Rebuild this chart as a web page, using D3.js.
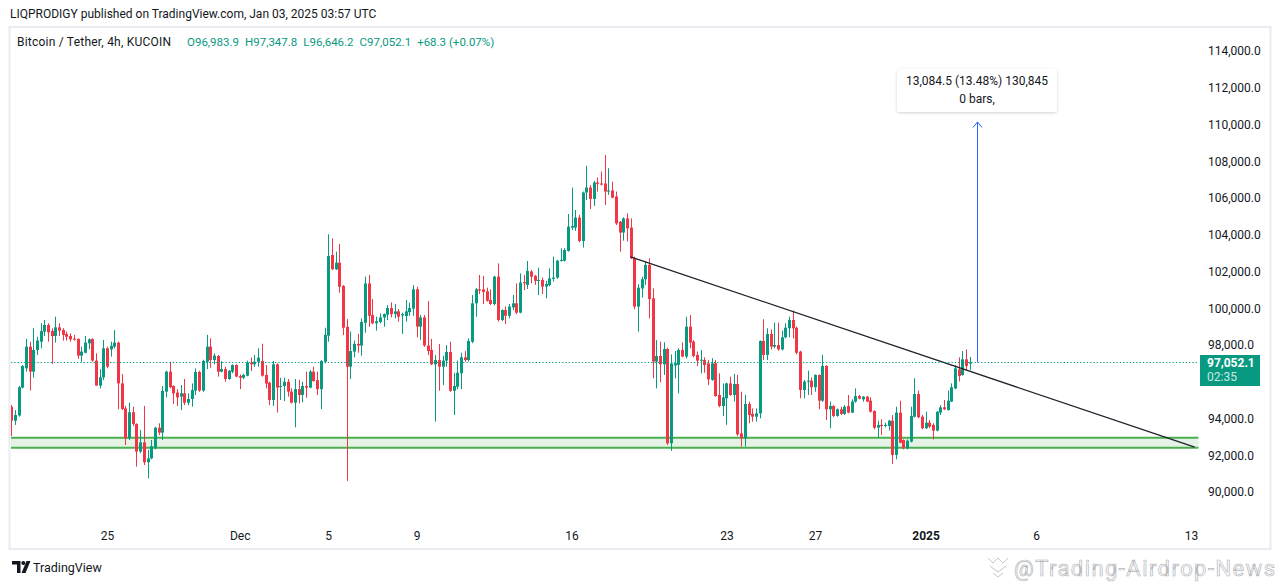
<!DOCTYPE html>
<html>
<head>
<meta charset="utf-8">
<script src="https://cdn.jsdelivr.net/npm/d3@7"></script>
<style>
  html, body { margin: 0; padding: 0; background: #ffffff; }
  svg { display: block; font-family: Roboto, "Noto Sans", sans-serif; }
</style>
</head>
<body>
<svg id="grafico" width="1281" height="585"></svg>
<script>
// BTC/USDT 4h, KuCoin. Prices are in thousands of USDT: [open, high, low, close]
const inicio = new Date(Date.UTC(2024, 10, 20, 16)); // first visible candle
const pasoHoras = 4;
const velas = [
  [94.64,94.73,93.05,93.88],[93.88,94.46,93.65,94.19],[94.16,95.77,94.10,95.70],[95.68,96.91,95.64,96.86],
  [96.73,98.33,96.55,97.91],[97.91,98.18,95.52,96.55],[96.55,98.91,96.22,97.73],[97.73,98.45,97.46,98.24],
  [98.18,99.18,97.82,98.76],[98.73,99.36,98.49,99.09],[99.09,99.18,98.18,98.69],[98.76,98.91,96.97,98.49],
  [98.49,99.54,98.13,98.96],[98.96,99.18,98.49,98.78],[98.82,98.91,98.24,98.55],[98.60,98.73,98.24,98.45],
  [98.49,98.64,98.18,98.31],[98.35,98.55,98.24,98.29],[98.33,98.36,97.24,97.42],[97.42,97.91,97.09,97.64],
  [97.58,98.49,97.55,98.13],[98.09,98.36,97.78,98.31],[98.33,98.36,97.09,97.15],[97.15,97.55,95.79,95.79],
  [95.79,96.69,95.64,96.24],[96.24,98.27,96.09,97.82],[97.82,97.91,96.73,96.82],[97.76,98.18,97.37,97.95],
  [97.91,98.82,97.82,98.13],[98.13,98.18,94.50,95.91],[95.91,96.42,94.46,94.52],[94.55,94.68,92.56,92.92],
  [92.92,94.86,92.83,94.34],[94.34,94.64,93.59,93.70],[93.70,93.74,91.38,92.20],[92.20,93.37,92.11,92.70],
  [92.70,94.68,91.47,91.62],[91.62,92.29,90.74,91.83],[91.83,92.83,91.78,92.50],[92.38,93.55,92.32,93.50],
  [93.50,93.74,93.10,93.23],[93.23,95.77,92.83,95.50],[95.46,96.60,95.15,96.55],[96.55,97.09,95.64,95.70],
  [95.77,95.80,94.79,95.37],[95.41,95.59,94.68,95.15],[95.19,95.82,94.46,95.37],[95.37,96.15,94.73,94.86],
  [94.86,95.37,94.73,95.06],[95.06,95.91,94.64,95.55],[95.52,96.73,95.28,96.53],[96.53,96.60,95.45,95.52],
  [95.52,97.20,95.45,97.13],[97.09,98.55,96.69,97.91],[97.91,98.36,96.76,97.18],[97.18,97.55,96.95,97.42],
  [97.40,97.45,96.28,96.55],[96.55,97.13,96.51,96.69],[96.69,96.82,96.00,96.15],[96.15,96.64,96.10,96.60],
  [96.55,96.95,96.46,96.91],[96.91,96.95,96.25,96.28],[96.31,96.40,95.60,96.22],[96.22,96.44,96.15,96.37],
  [96.33,97.15,96.30,97.04],[97.04,97.31,96.58,96.95],[96.95,97.46,96.82,97.09],[97.09,97.82,96.82,97.31],
  [97.13,98.07,96.28,96.33],[96.37,96.91,95.64,95.90],[95.95,96.00,94.73,95.01],[95.01,97.13,94.68,96.95],
  [96.95,97.00,94.32,95.68],[95.72,96.22,95.01,95.77],[95.77,96.22,94.95,96.00],[96.00,96.15,95.19,95.46],
  [95.46,95.64,94.82,94.86],[94.86,96.15,93.52,95.60],[95.60,96.10,94.82,95.28],[95.28,96.00,94.88,95.77],
  [95.77,96.55,95.13,95.68],[95.68,96.64,95.65,96.55],[96.55,96.82,96.00,96.04],[96.09,96.55,95.28,95.60],
  [95.60,97.18,94.51,97.13],[97.09,98.94,97.00,98.55],[98.51,104.02,98.18,102.84],[102.90,103.80,102.08,102.12],
  [102.12,103.08,102.08,102.48],[102.48,103.50,100.85,101.17],[101.21,101.26,98.54,98.94],[98.99,99.41,90.60,96.82],
  [96.82,98.73,96.15,97.67],[97.64,98.24,97.33,98.06],[98.06,98.60,97.58,97.97],[97.97,99.45,97.42,99.25],
  [99.21,101.72,98.67,101.35],[101.35,101.81,98.99,99.59],[99.63,100.50,99.14,99.18],[99.18,99.54,98.78,99.29],
  [99.25,99.72,99.18,99.50],[99.50,99.72,98.99,99.68],[99.65,100.18,99.36,100.01],[100.01,100.32,99.50,99.68],
  [99.68,100.23,99.45,99.83],[99.83,99.96,99.27,99.54],[99.61,99.76,98.60,99.68],[99.58,100.45,99.27,99.83],
  [99.79,100.30,99.59,100.01],[99.98,101.26,99.59,101.03],[101.03,101.17,98.42,99.00],[99.00,99.63,98.27,99.50],
  [99.50,99.63,97.90,97.97],[97.97,100.39,97.45,97.67],[97.73,98.33,96.90,96.95],[96.95,97.45,93.83,97.18],
  [97.18,98.06,95.51,96.82],[96.82,97.42,95.82,97.15],[97.15,98.00,96.82,97.62],[97.62,98.18,95.45,95.51],
  [95.51,96.49,94.19,95.77],[95.73,97.15,95.59,96.49],[96.46,97.58,95.59,97.33],[97.33,97.67,97.09,97.18],
  [97.18,98.36,97.10,98.22],[98.18,100.72,98.10,100.27],[100.27,101.10,99.54,101.03],[101.03,101.81,100.77,100.96],
  [101.03,101.76,100.23,100.88],[100.92,101.12,100.36,100.41],[100.45,101.03,100.18,100.23],[100.23,101.76,100.15,101.72],
  [101.72,102.44,99.27,99.36],[99.36,99.94,99.30,99.90],[99.90,100.09,99.14,99.59],[99.59,100.23,99.45,100.09],
  [100.05,100.72,99.90,100.27],[100.27,101.35,99.68,99.76],[99.76,101.90,99.73,101.40],[101.42,101.81,100.99,101.36],
  [101.27,102.57,101.05,102.03],[102.00,102.08,101.36,101.72],[101.76,101.81,101.27,101.49],[101.49,102.21,100.72,101.54],
  [101.54,101.67,100.77,101.18],[101.18,101.49,100.54,101.32],[101.27,102.17,101.20,101.63],[101.60,102.81,101.45,101.67],
  [101.67,102.63,101.60,102.59],[102.59,103.26,102.54,102.63],[102.59,103.26,102.54,103.17],[103.12,105.13,103.08,104.44],
  [104.39,106.57,104.26,104.48],[104.39,105.35,104.21,104.93],[104.93,105.08,103.59,103.66],[103.66,106.35,103.30,106.30],
  [106.30,107.75,105.89,106.57],[106.57,106.71,105.40,105.95],[105.95,106.93,105.57,106.84],[106.84,107.11,106.35,106.77],
  [106.79,107.44,106.68,106.73],[106.79,108.34,105.62,106.35],[106.35,107.62,106.17,106.41],[106.41,106.89,105.99,106.02],
  [106.08,106.35,104.53,104.62],[104.71,104.75,103.08,104.12],[104.12,104.95,103.68,104.89],[104.89,105.17,103.63,104.35],
  [104.39,104.89,102.68,102.72],[102.72,102.81,99.95,100.09],[100.09,101.30,98.73,101.12],[101.08,101.72,100.58,101.58],
  [101.58,102.54,101.27,102.36],[102.36,102.72,99.45,100.50],[100.54,101.08,96.19,97.10],[97.10,98.27,95.64,97.40],
  [97.40,98.18,95.97,96.95],[96.95,98.15,96.37,97.78],[97.78,97.85,92.56,92.65],[92.65,97.49,92.24,97.00],
  [96.88,97.67,96.19,97.01],[96.92,97.82,95.37,97.73],[97.73,98.15,97.33,97.37],[97.37,99.54,97.27,99.00],
  [99.00,99.63,97.82,98.13],[98.18,98.27,97.33,97.40],[97.46,97.64,96.86,97.15],[97.15,97.73,96.46,97.20],
  [97.18,97.33,96.49,96.91],[97.00,97.18,95.82,96.13],[96.10,97.28,96.05,97.00],[97.00,97.18,95.19,95.22],
  [95.28,96.46,94.61,94.68],[94.68,95.91,94.13,95.15],[95.10,95.95,93.65,95.91],[95.91,96.28,95.24,95.28],
  [95.28,96.42,94.92,95.88],[95.88,96.37,93.05,93.14],[93.19,95.46,92.47,92.92],[92.92,95.28,92.47,94.79],
  [94.79,94.92,93.74,94.19],[94.25,94.55,93.83,94.10],[94.10,94.55,93.83,94.28],[94.28,98.25,94.01,98.22],
  [98.22,99.40,97.18,97.46],[97.46,98.91,97.18,98.60],[98.60,98.85,97.76,97.91],[97.91,99.22,97.82,98.00],
  [98.00,99.22,97.69,97.76],[97.76,98.78,97.70,98.42],[98.42,99.18,98.36,98.94],[98.91,99.54,98.42,99.36],
  [99.36,99.87,98.36,98.91],[98.94,99.00,97.50,97.58],[97.64,97.69,95.10,95.55],[95.55,96.10,95.10,96.01],
  [96.01,96.60,95.28,96.06],[96.06,96.24,95.28,95.70],[95.70,96.40,95.46,96.37],[96.37,96.40,94.50,94.97],
  [94.97,97.46,94.90,96.86],[96.86,96.90,93.92,94.50],[94.50,94.92,93.47,94.68],[94.68,94.73,94.07,94.14],
  [94.14,94.55,94.10,94.50],[94.50,94.64,94.19,94.25],[94.25,94.73,94.19,94.64],[94.68,95.28,94.28,94.32],
  [94.32,95.04,94.30,94.92],[94.92,95.64,94.86,95.22],[95.22,95.28,95.04,95.08],[95.04,95.22,94.92,95.19],
  [95.19,95.22,94.90,94.92],[94.97,95.15,94.33,94.37],[94.41,94.45,93.41,93.50],[93.50,93.88,92.97,93.65],
  [93.65,93.96,93.10,93.59],[93.59,93.77,93.52,93.65],[93.59,93.92,93.34,93.88],[93.88,94.19,91.53,92.02],
  [92.02,94.64,91.78,94.32],[94.32,94.97,92.65,92.68],[92.83,92.86,92.32,92.38],[92.38,92.86,92.32,92.79],
  [92.74,94.64,92.70,94.14],[94.10,96.19,94.05,95.33],[95.33,95.52,94.01,94.07],[94.10,94.19,93.41,93.47],
  [93.47,94.37,93.44,93.77],[93.77,93.92,93.47,93.56],[93.65,93.74,92.86,93.34],[93.34,94.40,93.30,94.37],
  [94.32,94.73,94.19,94.61],[94.61,95.01,94.46,94.50],[94.46,95.52,94.43,94.97],[94.92,95.91,94.90,95.70],
  [95.64,96.91,95.59,96.73],[96.67,97.33,96.01,96.31],[96.37,97.67,96.33,97.22],[97.22,97.76,96.64,96.86],
  [96.9839,97.3478,96.6462,97.0521]
];

const preciosEje = [90, 92, 94, 96, 98, 100, 102, 104, 106, 108, 110, 112, 114];
const fechasEje = ["2024-11-25", "2024-12-01", "2024-12-05", "2024-12-09", "2024-12-16",
                   "2024-12-23", "2024-12-27", "2025-01-01", "2025-01-06", "2025-01-13"];
const etiquetasEje = ["25", "Dec", "5", "9", "16", "23", "27", "2025", "6", "13"];

const zonaSoporte = [92.41, 92.95];
const tendenciaFechas = ["2024-12-18T16:00Z", "2025-01-13T04:00Z"];
const tendenciaPrecios = [102.80, 92.44];
const zonaFin = "2025-01-13T08:00Z";

const ultimoPrecio = 97.0521;
const medidaFecha = "2025-01-03T08:00Z";
const medidaPrecios = [97.0521, 110.1366];
const medidaTexto = ["13,084.5 (13.48%) 130,845", "0 bars,"];

const cabecera = "LIQPRODIGY published on TradingView.com, Jan 03, 2025 03:57 UTC";
const simbolo = "Bitcoin / Tether, 4h, KUCOIN";
const valoresOHLC = ["O96,983.9", "H97,347.8", "L96,646.2", "C97,052.1", "+68.3 (+0.07%)"];

const verde = "#089981";
const rojo = "#F23645";
const texto = "#131722";

const area = { izq: 11, der: 1199, arriba: 28, abajo: 520 };

const svg = d3.select("#grafico");

const x = d3.scaleUtc()
  .domain([new Date("2024-11-25T00:00Z"), new Date("2025-01-13T00:00Z")])
  .range([107, 1191]);

const y = d3.scaleLinear()
  .domain([90, 114])
  .range([492, 51]);

const defs = svg.append("defs");
defs.append("clipPath").attr("id", "recorte")
  .append("rect")
  .attr("x", area.izq).attr("y", area.arriba)
  .attr("width", area.der - area.izq).attr("height", area.abajo - area.arriba);

const sombra = defs.append("filter").attr("id", "sombra")
  .attr("x", "-10%").attr("y", "-20%").attr("width", "120%").attr("height", "150%");
sombra.append("feDropShadow")
  .attr("dx", 0).attr("dy", 1).attr("stdDeviation", 1.6)
  .attr("flood-color", "#000").attr("flood-opacity", 0.18);

// marco del panel
svg.append("rect")
  .attr("x", 9.5).attr("y", 27)
  .attr("width", 1261).attr("height", 522)
  .attr("fill", "none")
  .attr("stroke", "#e9ecf2")
  .attr("stroke-width", 2);

const gPlot = svg.append("g").attr("clip-path", "url(#recorte)");

// zona de soporte
gPlot.append("rect")
  .attr("x", area.izq)
  .attr("y", y(zonaSoporte[1]))
  .attr("width", x(new Date(zonaFin)) - area.izq)
  .attr("height", y(zonaSoporte[0]) - y(zonaSoporte[1]))
  .attr("fill", "rgba(76, 175, 80, 0.15)");

zonaSoporte.forEach(p => {
  gPlot.append("line")
    .attr("x1", area.izq).attr("x2", x(new Date(zonaFin)))
    .attr("y1", y(p)).attr("y2", y(p))
    .attr("stroke", "#4CAF50")
    .attr("stroke-width", 2);
});

// velas
const tiempo = i => new Date(inicio.getTime() + i * pasoHoras * 3600e3);

const gVelas = gPlot.append("g");
const vela = gVelas.selectAll("g.vela")
  .data(velas)
  .join("g")
  .attr("class", "vela")
  .attr("fill", d => d[3] >= d[0] ? verde : rojo)
  .attr("stroke", d => d[3] >= d[0] ? verde : rojo);

vela.append("line")
  .attr("x1", (d, i) => Math.round(x(tiempo(i))) + 0.5)
  .attr("x2", (d, i) => Math.round(x(tiempo(i))) + 0.5)
  .attr("y1", d => y(d[1]))
  .attr("y2", d => y(d[2]))
  .attr("stroke-width", 1);

vela.append("rect")
  .attr("stroke", "none")
  .attr("x", (d, i) => Math.round(x(tiempo(i))) - 1)
  .attr("width", 3)
  .attr("y", d => y(Math.max(d[0], d[3])))
  .attr("height", d => Math.max(1, Math.abs(y(d[0]) - y(d[3]))));

// linea de tendencia
gPlot.append("line")
  .attr("x1", x(new Date(tendenciaFechas[0]))).attr("y1", y(tendenciaPrecios[0]))
  .attr("x2", x(new Date(tendenciaFechas[1]))).attr("y2", y(tendenciaPrecios[1]))
  .attr("stroke", "#1e222d")
  .attr("stroke-width", 1.3);

// precio actual
gPlot.append("line")
  .attr("x1", area.izq).attr("x2", area.der)
  .attr("y1", Math.round(y(ultimoPrecio)) + 0.5).attr("y2", Math.round(y(ultimoPrecio)) + 0.5)
  .attr("stroke", verde)
  .attr("stroke-width", 1)
  .attr("stroke-dasharray", "1.3 2");

// medicion
const mx = Math.round(x(new Date(medidaFecha))) + 0.5;
const yTope = y(medidaPrecios[1]);
gPlot.append("line")
  .attr("x1", mx).attr("x2", mx)
  .attr("y1", y(medidaPrecios[0])).attr("y2", yTope)
  .attr("stroke", "#2962FF").attr("stroke-width", 1);
gPlot.append("path")
  .attr("d", `M${mx - 4.5},${yTope + 5.5}L${mx},${yTope}L${mx + 4.5},${yTope + 5.5}`)
  .attr("fill", "none").attr("stroke", "#2962FF").attr("stroke-width", 1);

const caja = svg.append("g");
caja.append("rect")
  .attr("x", mx - 80.5).attr("y", yTope - 53)
  .attr("width", 160).attr("height", 43)
  .attr("rx", 3)
  .attr("fill", "#ffffff")
  .attr("filter", "url(#sombra)");
caja.selectAll("text")
  .data(medidaTexto)
  .join("text")
  .attr("x", mx - 0.5)
  .attr("y", (d, i) => yTope - 37 + i * 18)
  .attr("text-anchor", "middle")
  .attr("font-size", 12)
  .attr("fill", texto)
  .text(d => d);

// etiqueta del ultimo precio: limites de la caja
const yp = Math.round(y(ultimoPrecio));
const cajaPrecio = [yp - 7, yp + 24];

// eje de precios (TradingView oculta las marcas tapadas por la etiqueta)
const ejeY = svg.append("g")
  .attr("transform", `translate(${area.der + 1},0)`)
  .call(d3.axisRight(y)
    .tickValues(preciosEje.filter(v => y(v) + 5 < cajaPrecio[0] || y(v) - 5 > cajaPrecio[1]))
    .tickSize(0)
    .tickPadding(8)
    .tickFormat(d => d3.format(",.1f")(d * 1000)));
ejeY.select(".domain").remove();
ejeY.selectAll("text")
  .attr("font-family", "Roboto, 'Noto Sans', sans-serif")
  .attr("font-size", 12)
  .attr("fill", texto);

svg.append("rect")
  .attr("x", area.der + 1).attr("y", cajaPrecio[0])
  .attr("width", 60).attr("height", cajaPrecio[1] - cajaPrecio[0])
  .attr("fill", verde);
svg.append("text")
  .attr("x", area.der + 8).attr("y", yp + 5)
  .attr("font-size", 12).attr("font-weight", 700)
  .attr("fill", "#ffffff")
  .text(d3.format(",.1f")(ultimoPrecio * 1000));
svg.append("text")
  .attr("x", area.der + 8).attr("y", yp + 19)
  .attr("font-size", 12)
  .attr("fill", "#ffffff").attr("fill-opacity", 0.8)
  .text("02:35");

// eje de tiempo
const ejeX = svg.append("g")
  .attr("transform", `translate(0,${area.abajo})`)
  .call(d3.axisBottom(x)
    .tickValues(fechasEje.map(f => new Date(f + "T00:00Z")))
    .tickSize(0)
    .tickPadding(11.5)
    .tickFormat((d, i) => etiquetasEje[i]));
ejeX.select(".domain").remove();
ejeX.selectAll("text")
  .attr("font-family", "Roboto, 'Noto Sans', sans-serif")
  .attr("font-size", 12)
  .attr("fill", texto)
  .attr("font-weight", (d, i) => etiquetasEje[i] === "2025" ? 700 : 400);

// cabecera
svg.append("text")
  .attr("x", 10).attr("y", 18)
  .attr("font-size", 12)
  .attr("fill", texto)
  .text(cabecera);

svg.append("text")
  .attr("x", 17).attr("y", 46)
  .attr("font-size", 12)
  .attr("textLength", 154)
  .attr("fill", texto)
  .text(simbolo);

svg.append("text")
  .attr("x", 187).attr("y", 46)
  .attr("font-size", 11.5)
  .attr("fill", verde)
  .selectAll("tspan")
  .data(valoresOHLC)
  .join("tspan")
  .attr("dx", (d, i) => i === 0 ? 0 : 6)
  .text(d => d);

// pie: logo TradingView
const logo = svg.append("g").attr("transform", "translate(12,561)").attr("fill", texto);
logo.append("path").attr("d", "M0,0H8.5V12H5V3.6H0Z");
logo.append("circle").attr("cx", 11.3).attr("cy", 2).attr("r", 2);
logo.append("path").attr("d", "M14.5,0H18.5L13.5,12H9.5Z");
svg.append("text")
  .attr("x", 33).attr("y", 572)
  .attr("font-size", 12.5)
  .attr("fill", texto)
  .text("TradingView");

// marca de agua
const agua = svg.append("g").attr("fill", "none").attr("stroke", "#b3b6bb").attr("stroke-width", 0.8);
agua.append("path").attr("d", "M988,558l5,5l5,-5l5,5l5,-5 M990,566l8,6l8,-6 M993,573l5,4l5,-4");
svg.append("text")
  .attr("x", 1014).attr("y", 576)
  .attr("font-size", 22)
  .attr("textLength", 261)
  .attr("fill", "#ffffff")
  .attr("stroke", "#b3b6bb")
  .attr("stroke-width", 0.7)
  .text("@Trading-Airdrop-News");
</script>
</body>
</html>
